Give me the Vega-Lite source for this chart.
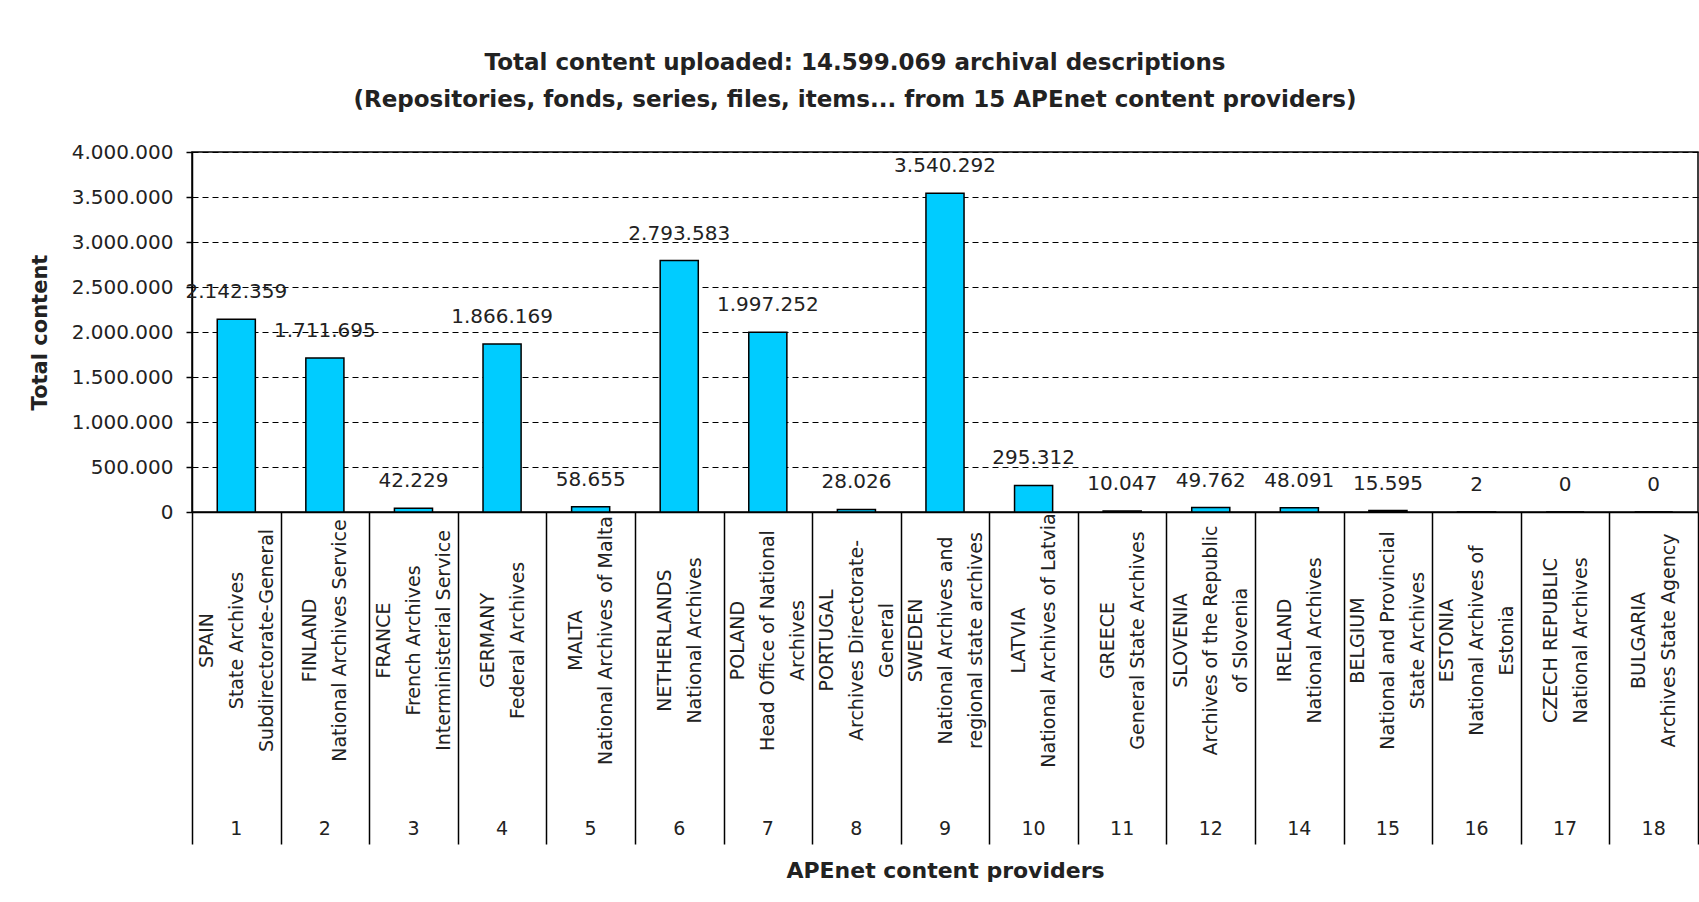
{
  "$schema": "https://vega.github.io/schema/vega-lite/v6.json",
  "width": 1506,
  "height": 360,
  "autosize": {"type": "none"},
  "padding": {"left": 192, "top": 152, "right": 1, "bottom": 390},
  "background": "white",
  "config": {
    "locale": {"number": {"decimal": ",", "thousands": ".", "grouping": [3], "currency": ["", ""]}},
    "view": {"stroke": "black", "strokeWidth": 1.5},
    "font": "DejaVu Sans"
  },
  "title": {
    "text": ["Total content uploaded: 14.599.069 archival descriptions", "(Repositories, fonds, series, files, items... from 15 APEnet content providers)"],
    "font": "DejaVu Sans",
    "fontSize": 23,
    "fontWeight": "bold",
    "color": "#222",
    "lineHeight": 37,
    "anchor": "middle",
    "frame": "group",
    "dx": -90,
    "offset": 7,
    "baseline": "bottom"
  },
  "data": {
    "values": [
      {"key": "1|SPAIN|State Archives|Subdirectorate-General", "content": 2142359},
      {"key": "2|FINLAND|National Archives Service", "content": 1711695},
      {"key": "3|FRANCE|French Archives|Interministerial Service", "content": 42229},
      {"key": "4|GERMANY|Federal Archives", "content": 1866169},
      {"key": "5|MALTA|National Archives of Malta", "content": 58655},
      {"key": "6|NETHERLANDS|National Archives", "content": 2793583},
      {"key": "7|POLAND|Head Office of National|Archives", "content": 1997252},
      {"key": "8|PORTUGAL|Archives Directorate-|General", "content": 28026},
      {"key": "9|SWEDEN|National Archives and|regional state archives", "content": 3540292},
      {"key": "10|LATVIA|National Archives of Latvia", "content": 295312},
      {"key": "11|GREECE|General State Archives", "content": 10047},
      {"key": "12|SLOVENIA|Archives of the Republic|of Slovenia", "content": 49762},
      {"key": "14|IRELAND|National Archives", "content": 48091},
      {"key": "15|BELGIUM|National and Provincial|State Archives", "content": 15595},
      {"key": "16|ESTONIA|National Archives of|Estonia", "content": 2},
      {"key": "17|CZECH REPUBLIC|National Archives", "content": 0},
      {"key": "18|BULGARIA|Archives State Agency", "content": 0}
    ]
  },
  "layer": [
    {
      "mark": {"type": "bar", "fill": "#00ccff", "stroke": "black", "strokeWidth": 1.5, "width": {"band": 0.43}},
      "encoding": {
        "x": {
          "field": "key", "type": "nominal", "sort": null,
          "scale": {"paddingInner": 0, "paddingOuter": 0},
          "axis": {
            "orient": "bottom",
            "title": "APEnet content providers",
            "titleFont": "DejaVu Sans", "titleFontSize": 22, "titleFontWeight": "bold", "titleColor": "#222", "titlePadding": 148,
            "tickBand": "extent", "tickSize": 332, "tickColor": "black", "tickWidth": 1.5,
            "domainColor": "black", "domainWidth": 1.5,
            "labelAngle": 270, "labelAlign": "center", "labelBaseline": "middle", "labelLineHeight": 30,
            "labelFontSize": 19, "labelColor": "#222", "labelPadding": -204, "labelLimit": 500, "labelOverlap": false,
            "labelOffset": {"condition": {"test": "length(split(datum.value, '|')) > 3", "value": -30}, "value": -15},
            "labelExpr": "slice(split(datum.value, '|'), 1)"
          }
        },
        "y": {
          "field": "content", "type": "quantitative",
          "scale": {"domain": [0, 4000000], "nice": false},
          "axis": {
            "title": "Total content",
            "titleFont": "DejaVu Sans", "titleFontSize": 21, "titleFontWeight": "bold", "titleColor": "#222", "titlePadding": 21,
            "values": [0, 500000, 1000000, 1500000, 2000000, 2500000, 3000000, 3500000, 4000000],
            "format": ",d",
            "labelFontSize": 20, "labelColor": "#222", "labelPadding": 13,
            "tickSize": 6, "tickColor": "black", "tickWidth": 1.5,
            "domainColor": "black", "domainWidth": 1.5,
            "grid": true, "gridColor": "black", "gridDash": [6, 4], "gridWidth": 1.2, "gridOpacity": 1
          }
        }
      }
    },
    {
      "mark": {"type": "text", "dy": -27, "fontSize": 20, "baseline": "middle", "color": "#222"},
      "encoding": {
        "x": {
          "field": "key", "type": "nominal", "sort": null,
          "axis": {
            "orient": "bottom",
            "title": null, "ticks": false, "tickSize": 0, "domain": false, "grid": false,
            "labelAngle": 0, "labelAlign": "center", "labelBaseline": "middle", "labelPadding": 316,
            "labelFontSize": 19, "labelColor": "#222", "labelOverlap": false,
            "labelExpr": "split(datum.value, '|')[0]"
          }
        },
        "y": {"field": "content", "type": "quantitative"},
        "text": {"field": "content", "type": "quantitative", "format": ",d"}
      }
    }
  ],
  "resolve": {"axis": {"x": "independent"}}
}
